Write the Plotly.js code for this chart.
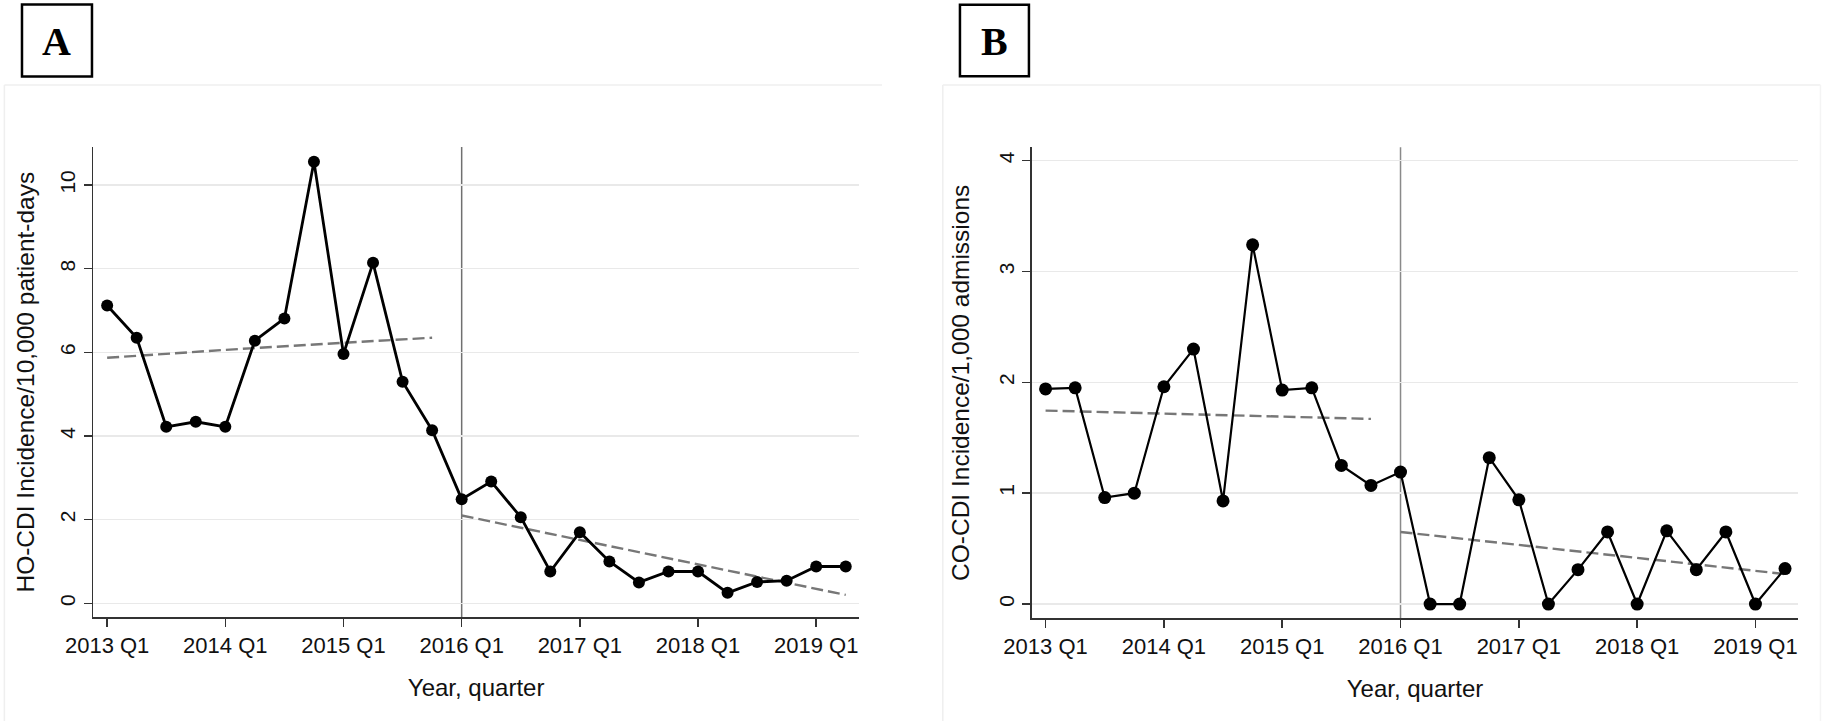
<!DOCTYPE html>
<html>
<head>
<meta charset="utf-8">
<script src="https://cdn.plot.ly/plotly-3.0.1.min.js"></script>
<style>html,body{margin:0;padding:0;background:#fff;}#chart{width:1825px;height:721px;}</style>
</head>
<body>
<div id="chart"></div>
<script>
// Quarter categories
const quarters = ['2013 Q1','2013 Q2','2013 Q3','2013 Q4','2014 Q1','2014 Q2','2014 Q3','2014 Q4',
  '2015 Q1','2015 Q2','2015 Q3','2015 Q4','2016 Q1','2016 Q2','2016 Q3','2016 Q4',
  '2017 Q1','2017 Q2','2017 Q3','2017 Q4','2018 Q1','2018 Q2','2018 Q3','2018 Q4',
  '2019 Q1','2019 Q2'];
const tickQuarters = ['2013 Q1','2014 Q1','2015 Q1','2016 Q1','2017 Q1','2018 Q1','2019 Q1'];

// Panel A: HO-CDI incidence / 10,000 patient-days
const hoCdi = [7.12,6.35,4.22,4.34,4.22,6.28,6.81,10.56,5.96,8.14,5.30,4.14,2.49,2.91,2.06,0.76,
  1.70,1.00,0.50,0.76,0.76,0.25,0.51,0.54,0.88,0.88];
const hoPreTrendX = ['2013 Q1','2014 Q1','2015 Q1','2015 Q4'];
const hoPreTrendY = [5.87,6.06,6.23,6.35];
const hoPostTrendX = ['2016 Q1','2019 Q2'];
const hoPostTrendY = [2.10,0.20];

// Panel B: CO-CDI incidence / 1,000 admissions
const coCdi = [1.94,1.95,0.96,1.00,1.96,2.30,0.93,3.24,1.93,1.95,1.25,1.07,1.19,0,0,1.32,
  0.94,0,0.31,0.65,0,0.66,0.31,0.65,0,0.32];
const coPreTrendX = ['2013 Q1','2015 Q4'];
const coPreTrendY = [1.745,1.67];
const coPostTrendX = ['2016 Q1','2019 Q2'];
const coPostTrendY = [0.65,0.27];

const interventionQuarter = '2016 Q1';
const panelLabels = ['A','B'];
const yTitles = ['HO-CDI Incidence/10,000 patient-days','CO-CDI Incidence/1,000 admissions'];
const xTitle = 'Year, quarter';

const FONT = 'Liberation Sans, Arial, sans-serif';
const dataLine = (x, y, xa, ya, w, ms) => ({x, y, xaxis: xa, yaxis: ya, type: 'scatter', mode: 'lines+markers',
  line: {color: '#000', width: w}, marker: {color: '#000', size: ms}, showlegend: false, hoverinfo: 'skip'});
const trendLine = (x, y, xa, ya) => ({x, y, xaxis: xa, yaxis: ya, type: 'scatter', mode: 'lines',
  line: {color: '#777', width: 2.4, dash: '12px,5px'}, showlegend: false, hoverinfo: 'skip'});

const traces = [
  trendLine(hoPreTrendX, hoPreTrendY, 'x', 'y'),
  trendLine(hoPostTrendX, hoPostTrendY, 'x', 'y'),
  dataLine(quarters, hoCdi, 'x', 'y', 2.8, 12),
  trendLine(coPreTrendX, coPreTrendY, 'x2', 'y2'),
  trendLine(coPostTrendX, coPostTrendY, 'x2', 'y2'),
  dataLine(quarters, coCdi, 'x2', 'y2', 2.2, 13)
];

const xBase = {
  type: 'category', categoryorder: 'array', categoryarray: quarters,
  range: [-0.47, 25.45], tickmode: 'array', tickvals: tickQuarters, ticktext: tickQuarters,
  showline: true, linecolor: '#333', linewidth: 1.5, mirror: false,
  ticks: 'outside', ticklen: 8, tickwidth: 1.5, tickcolor: '#333',
  showgrid: false, zeroline: false, tickangle: 0,
  tickfont: {family: FONT, size: 22, color: '#111'},
  title: {text: xTitle, font: {family: FONT, size: 24, color: '#111'}, standoff: 22},
  fixedrange: true
};
const yBase = {
  showline: true, linecolor: '#333', linewidth: 1.5,
  ticks: 'outside', ticklen: 8, tickwidth: 1.5, tickcolor: '#333',
  showgrid: true, gridcolor: '#e9e9e9', gridwidth: 1.5, zeroline: false,
  tickangle: -90, tickfont: {family: FONT, size: 21, color: '#111'},
  fixedrange: true
};

const layout = {
  width: 1825, height: 721,
  margin: {l: 0, r: 0, t: 0, b: 0},
  paper_bgcolor: '#fff', plot_bgcolor: '#fff',
  showlegend: false,
  xaxis: Object.assign({}, xBase, {domain: [0.0511, 0.4707], anchor: 'y'}),
  yaxis: Object.assign({}, yBase, {domain: [0.1438, 0.7961], anchor: 'x', range: [-0.335, 10.91],
    tickvals: [0,2,4,6,8,10],
    title: {text: yTitles[0], font: {family: FONT, size: 24.5, color: '#111'}, standoff: 15}}),
  xaxis2: Object.assign({}, xBase, {domain: [0.5653, 0.9854], anchor: 'y2'}),
  yaxis2: Object.assign({}, yBase, {domain: [0.1424, 0.7957], anchor: 'x2', range: [-0.129, 4.12],
    tickvals: [0,1,2,3,4],
    title: {text: yTitles[1], font: {family: FONT, size: 24.5, color: '#111'}, standoff: 18}}),
  shapes: [
    // faint panel outlines
    {type: 'line', xref: 'paper', yref: 'paper', x0: 0.0024, x1: 0.4833, y0: 0.882, y1: 0.882, line: {color: '#efefef', width: 1.5}},
    {type: 'line', xref: 'paper', yref: 'paper', x0: 0.0024, x1: 0.0024, y0: 0.882, y1: 0, line: {color: '#efefef', width: 1.5}},
    {type: 'line', xref: 'paper', yref: 'paper', x0: 0.5166, x1: 0.9975, y0: 0.882, y1: 0.882, line: {color: '#efefef', width: 1.5}},
    {type: 'line', xref: 'paper', yref: 'paper', x0: 0.5166, x1: 0.5166, y0: 0.882, y1: 0, line: {color: '#efefef', width: 1.5}},
    {type: 'line', xref: 'paper', yref: 'paper', x0: 0.9975, x1: 0.9975, y0: 0.882, y1: 0, line: {color: '#f4f4f4', width: 1.5}},
    // intervention lines
    {type: 'line', xref: 'x', yref: 'y domain', x0: quarters.indexOf(interventionQuarter), x1: quarters.indexOf(interventionQuarter),
      y0: 0, y1: 1, line: {color: '#707070', width: 1.5}, layer: 'below'},
    {type: 'line', xref: 'x2', yref: 'y2 domain', x0: quarters.indexOf(interventionQuarter), x1: quarters.indexOf(interventionQuarter),
      y0: 0, y1: 1, line: {color: '#8a8a8a', width: 1.5}, layer: 'below'},
    // panel label boxes
    {type: 'rect', xref: 'paper', yref: 'paper', x0: 0.01205, x1: 0.0504, y0: 0.8939, y1: 0.9938, line: {color: '#000', width: 2.5}},
    {type: 'rect', xref: 'paper', yref: 'paper', x0: 0.5260, x1: 0.5638, y0: 0.8942, y1: 0.9935, line: {color: '#000', width: 2.5}}
  ],
  annotations: [
    {text: '<b>' + panelLabels[0] + '</b>', xref: 'paper', yref: 'paper', x: 0.03123, y: 0.9418, xanchor: 'center', yanchor: 'middle',
      showarrow: false, font: {family: 'Liberation Serif, Times New Roman, serif', size: 40, color: '#000'}},
    {text: '<b>' + panelLabels[1] + '</b>', xref: 'paper', yref: 'paper', x: 0.5449, y: 0.9418, xanchor: 'center', yanchor: 'middle',
      showarrow: false, font: {family: 'Liberation Serif, Times New Roman, serif', size: 40, color: '#000'}}
  ]
};

Plotly.newPlot('chart', traces, layout, {displayModeBar: false, staticPlot: true});
</script>
</body>
</html>
